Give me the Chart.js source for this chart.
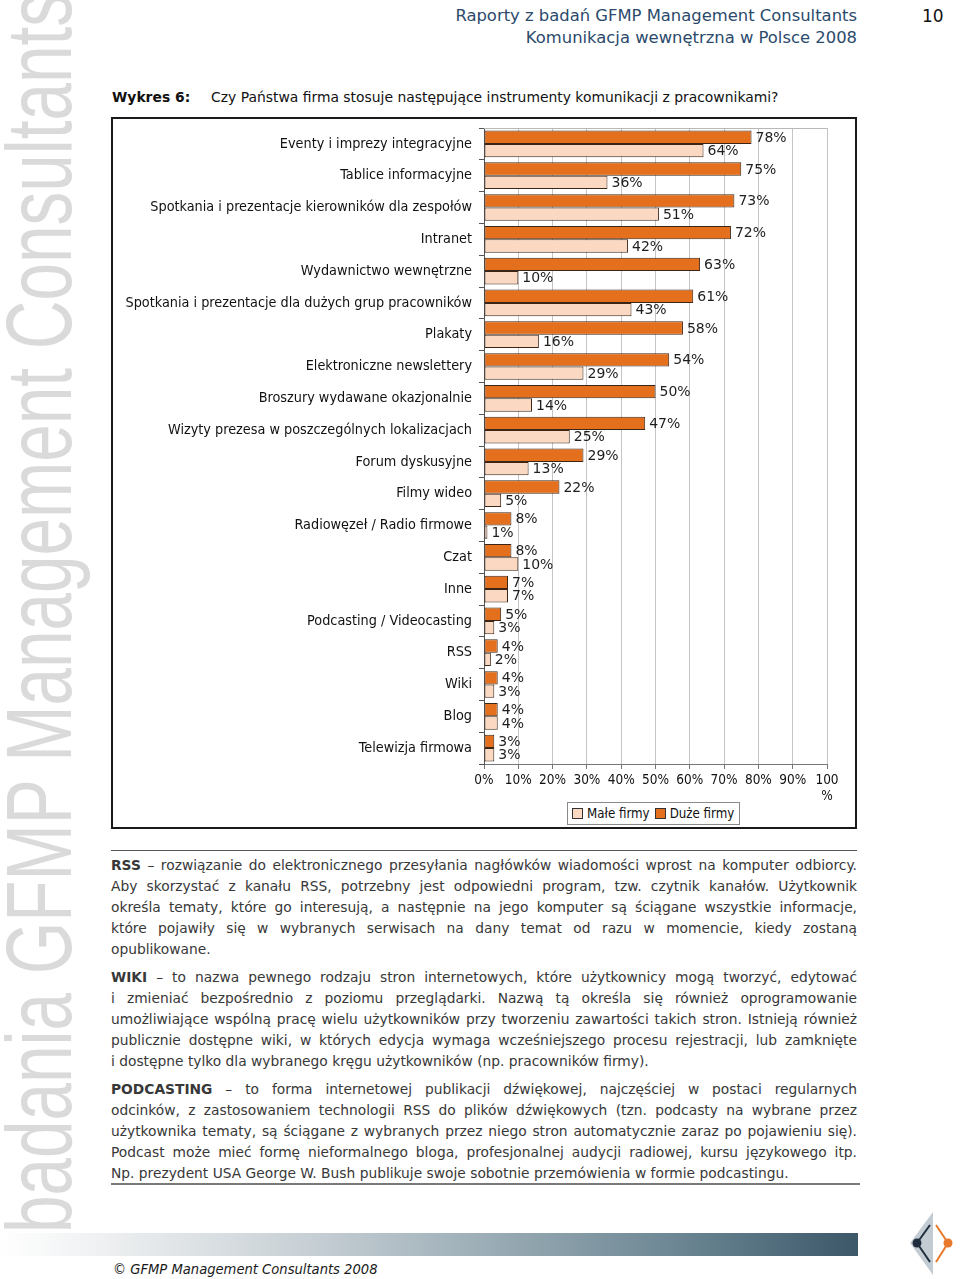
<!DOCTYPE html>
<html>
<head>
<meta charset="utf-8">
<script src="https://cdn.jsdelivr.net/npm/chart.js@4/dist/chart.umd.min.js"></script>
<style>
  html, body { margin:0; padding:0; background:#fff; }
  body { width:960px; height:1279px; position:relative; overflow:hidden; font-family:"DejaVu Sans", Verdana, sans-serif; }
  .abs { position:absolute; }
  #hdr { right:103px; top:5px; text-align:right; font-size:16.4px; line-height:22px; color:#2b4a6c; }
  #pg { left:922px; top:5px; font-size:17px; line-height:22px; color:#111; }
  #title { left:112px; top:88px; font-size:13.9px; line-height:18px; color:#111; white-space:nowrap; }
  #title b { display:inline-block; width:99px; }
  #box { left:111px; top:117px; width:746px; height:712px; box-sizing:border-box; border:2px solid #1a1a1a; }
  #box canvas { position:absolute; left:0; top:0; }
  #legend { left:567px; top:802px; width:173px; height:23px; box-sizing:border-box; border:1px solid #8a8a8a; background:#fff;
            font-family:"DejaVu Sans Condensed","DejaVu Sans",sans-serif; font-size:13.2px; color:#111; display:flex; align-items:center; padding-left:4px; white-space:nowrap; }
  #legend .sw { display:inline-block; width:9px; height:9px; border:1px solid #333; margin-right:4px; }
  #legend .it { display:flex; align-items:center; margin-right:5px; }
  #rule1 { left:111px; top:850px; width:746px; height:1px; background:#555; }
  #rule2 { left:111px; top:1183px; width:749px; height:2px; background:#7a7a7a; }
  #text { left:111px; top:854.5px; width:746px; font-size:13.8px; line-height:21px; color:#383838; }
  #text .l { text-align:justify; text-align-last:justify; }
  #text .e { text-align:left; }
  #text .p { margin-bottom:7px; }
  #grad { left:0; top:1233px; width:858px; height:23px; background:linear-gradient(to right,#ffffff 0%,#eef0f1 12%,#c9d1d6 35%,#9fb0b9 55%,#6e8895 78%,#3c5869 100%); }
  #copy { left:113px; top:1260px; font-size:14.6px; line-height:18px; font-style:italic; color:#1a1a1a; font-family:"DejaVu Sans Condensed","DejaVu Sans",sans-serif; }
</style>
</head>
<body>
<svg class="abs" style="left:0;top:0" width="100" height="1279">
  <text transform="translate(71,1233) rotate(-90)" font-family="Liberation Sans, Arial, sans-serif" font-size="93" fill="#dadada" textLength="1240" lengthAdjust="spacingAndGlyphs">badania GFMP Management Consultants</text>
</svg>

<div id="hdr" class="abs">Raporty z badań GFMP Management Consultants<br>Komunikacja wewnętrzna w Polsce 2008</div>
<div id="pg" class="abs">10</div>
<div id="title" class="abs"><b>Wykres 6:</b>Czy Państwa firma stosuje następujące instrumenty komunikacji z pracownikami?</div>

<div id="box" class="abs"><canvas id="c" width="742" height="708" style="width:742px;height:708px"></canvas></div>
<div id="legend" class="abs">
  <span class="it"><span class="sw" style="background:#FBD8C2"></span>Małe firmy</span>
  <span class="it"><span class="sw" style="background:#E46F1C"></span>Duże firmy</span>
</div>

<div id="rule1" class="abs"></div>
<div id="text" class="abs">
  <div class="p">
    <div class="l"><b>RSS</b> – rozwiązanie do elektronicznego przesyłania nagłówków wiadomości wprost na komputer odbiorcy.</div>
    <div class="l">Aby skorzystać z kanału RSS, potrzebny jest odpowiedni program, tzw. czytnik kanałów. Użytkownik</div>
    <div class="l">określa tematy, które go interesują, a następnie na jego komputer są ściągane wszystkie informacje,</div>
    <div class="l">które pojawiły się w wybranych serwisach na dany temat od razu w momencie, kiedy zostaną</div>
    <div class="e">opublikowane.</div>
  </div>
  <div class="p">
    <div class="l"><b>WIKI</b> – to nazwa pewnego rodzaju stron internetowych, które użytkownicy mogą tworzyć, edytować</div>
    <div class="l">i zmieniać bezpośrednio z poziomu przeglądarki. Nazwą tą określa się również oprogramowanie</div>
    <div class="l">umożliwiające wspólną pracę wielu użytkowników przy tworzeniu zawartości takich stron. Istnieją również</div>
    <div class="l">publicznie dostępne wiki, w których edycja wymaga wcześniejszego procesu rejestracji, lub zamknięte</div>
    <div class="e">i dostępne tylko dla wybranego kręgu użytkowników (np. pracowników firmy).</div>
  </div>
  <div class="p">
    <div class="l"><b>PODCASTING</b> – to forma internetowej publikacji dźwiękowej, najczęściej w postaci regularnych</div>
    <div class="l">odcinków, z zastosowaniem technologii RSS do plików dźwiękowych (tzn. podcasty na wybrane przez</div>
    <div class="l">użytkownika tematy, są ściągane z wybranych przez niego stron automatycznie zaraz po pojawieniu się).</div>
    <div class="l">Podcast może mieć formę nieformalnego bloga, profesjonalnej audycji radiowej, kursu językowego itp.</div>
    <div class="e">Np. prezydent USA George W. Bush publikuje swoje sobotnie przemówienia w formie podcastingu.</div>
  </div>
</div>
<div id="rule2" class="abs"></div>
<div id="grad" class="abs"></div>
<div id="copy" class="abs">© GFMP Management Consultants 2008</div>

<svg class="abs" style="left:900px;top:1205px" width="60" height="74">
  <polygon points="33,7 33,70 10,38" fill="#c3ccd2"/>
  <line x1="17" y1="38" x2="30" y2="20" stroke="#1f2d3d" stroke-width="2"/>
  <line x1="17" y1="38" x2="30" y2="57" stroke="#1f2d3d" stroke-width="2"/>
  <circle cx="17" cy="38" r="4.5" fill="#1f2d3d"/>
  <line x1="48" y1="38" x2="36" y2="20" stroke="#e8782a" stroke-width="2"/>
  <line x1="48" y1="38" x2="36" y2="57" stroke="#e8782a" stroke-width="2"/>
  <circle cx="48" cy="38" r="4.5" fill="#e8782a"/>
</svg>

<script>
const categories = [
  "Eventy i imprezy integracyjne",
  "Tablice informacyjne",
  "Spotkania i prezentacje kierowników dla zespołów",
  "Intranet",
  "Wydawnictwo wewnętrzne",
  "Spotkania i prezentacje dla dużych grup pracowników",
  "Plakaty",
  "Elektroniczne newslettery",
  "Broszury wydawane okazjonalnie",
  "Wizyty prezesa w poszczególnych lokalizacjach",
  "Forum dyskusyjne",
  "Filmy wideo",
  "Radiowęzeł / Radio firmowe",
  "Czat",
  "Inne",
  "Podcasting / Videocasting",
  "RSS",
  "Wiki",
  "Blog",
  "Telewizja firmowa"
];
const duzeFirmy = [78, 75, 73, 72, 63, 61, 58, 54, 50, 47, 29, 22, 8, 8, 7, 5, 4, 4, 4, 3];
const maleFirmy = [64, 36, 51, 42, 10, 43, 16, 29, 14, 25, 13, 5, 1, 10, 7, 3, 2, 3, 4, 3];
const xTickValues = [0, 10, 20, 30, 40, 50, 60, 70, 80, 90, 100];

const ORANGE = '#E46F1C';
const PEACH = '#FBD8C2';
const LABEL_FONT = '"DejaVu Sans Condensed", "DejaVu Sans", sans-serif';

const plotFrame = {
  id: 'plotFrame',
  beforeDatasetsDraw(chart) {
    const a = chart.chartArea, ctx = chart.ctx;
    ctx.save();
    ctx.strokeStyle = '#b8b8b8';
    ctx.lineWidth = 1;
    ctx.beginPath();
    ctx.moveTo(a.left, a.top + 0.5);
    ctx.lineTo(a.right, a.top + 0.5);
    ctx.stroke();
    ctx.restore();
  }
};

const valueLabels = {
  id: 'valueLabels',
  afterDatasetsDraw(chart) {
    const ctx = chart.ctx;
    ctx.save();
    ctx.font = '14px "DejaVu Sans", sans-serif';
    ctx.fillStyle = '#1e1e1e';
    ctx.textBaseline = 'middle';
    ctx.textAlign = 'left';
    chart.data.datasets.forEach((ds, i) => {
      const meta = chart.getDatasetMeta(i);
      meta.data.forEach((bar, j) => {
        ctx.fillText(ds.data[j] + '%', bar.x + 4, bar.y + 1);
      });
    });
    ctx.restore();
  }
};

new Chart(document.getElementById('c'), {
  type: 'bar',
  data: {
    labels: categories,
    datasets: [
      { label: 'Duże firmy', data: duzeFirmy, backgroundColor: ORANGE, borderColor: '#3b2616', borderWidth: 1, borderSkipped: false },
      { label: 'Małe firmy', data: maleFirmy, backgroundColor: PEACH, borderColor: '#3b2616', borderWidth: 1, borderSkipped: false }
    ]
  },
  options: {
    indexAxis: 'y',
    responsive: false,
    animation: false,
    devicePixelRatio: 1,
    categoryPercentage: 0.84,
    barPercentage: 1.0,
    layout: { padding: { top: 9, right: 28, bottom: 0, left: 0 } },
    plugins: { legend: { display: false }, tooltip: { enabled: false } },
    scales: {
      x: {
        type: 'linear', position: 'bottom', min: 0, max: 100,
        afterBuildTicks: s => { s.ticks = xTickValues.map(v => ({ value: v })); },
        afterFit: s => { s.height = 63; s.paddingLeft = 0; s.paddingRight = 0; },
        grid: { color: '#c4c4c4', tickColor: '#777', tickLength: 5, lineWidth: 1 },
        border: { display: true, color: '#777', width: 1 },
        ticks: {
          font: { family: LABEL_FONT, size: 13.5 }, color: '#111', padding: 3, maxRotation: 0, autoSkip: false,
          callback: v => v === 100 ? ['100', '%'] : v + '%'
        }
      },
      y: {
        type: 'category',
        afterFit: s => { s.width = 371; s.paddingTop = 0; s.paddingBottom = 0; },
        grid: { drawOnChartArea: false, drawTicks: true, tickLength: 5, color: '#555', offset: true },
        border: { display: true, color: '#555', width: 1 },
        ticks: { font: { family: LABEL_FONT, size: 14.3 }, color: '#111', padding: 7, autoSkip: false }
      }
    }
  },
  plugins: [plotFrame, valueLabels]
});
</script>
</body>
</html>
